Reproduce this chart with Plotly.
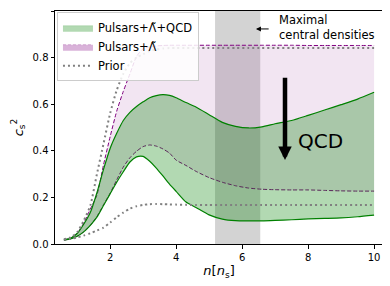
import plotly.graph_objects as go

# ---------------- data ----------------
n_grid = [0.6, 0.8, 1.0, 1.2, 1.4, 1.6, 1.8, 2.0, 2.2, 2.4, 2.6, 2.8, 3.0, 3.2, 3.4, 3.6,
          3.8, 4.0, 4.3, 4.6, 5.0, 5.4, 5.8, 6.2, 6.6, 7.0, 7.5, 8.0, 8.5, 9.0, 9.5, 10.0]

qcd_upper = [0.018, 0.025, 0.045, 0.085, 0.135, 0.22, 0.32, 0.41, 0.475, 0.53, 0.565, 0.59,
             0.61, 0.628, 0.637, 0.641, 0.638, 0.628, 0.607, 0.588, 0.555, 0.522, 0.505,
             0.498, 0.503, 0.516, 0.53, 0.552, 0.575, 0.598, 0.622, 0.651]
qcd_lower = [0.017, 0.022, 0.033, 0.052, 0.08, 0.115, 0.165, 0.215, 0.265, 0.31, 0.352,
             0.374, 0.376, 0.355, 0.326, 0.292, 0.257, 0.226, 0.18, 0.157, 0.125, 0.107,
             0.1, 0.099, 0.099, 0.101, 0.104, 0.108, 0.11, 0.112, 0.117, 0.124]

lam_upper = [0.018, 0.025, 0.045, 0.09, 0.15, 0.21, 0.34, 0.46, 0.57, 0.655, 0.73, 0.805,
             0.838, 0.846, 0.85, 0.852, 0.853, 0.853, 0.853, 0.853, 0.853, 0.853, 0.853,
             0.853, 0.853, 0.853, 0.853, 0.852, 0.852, 0.852, 0.852, 0.852]
lam_lower = [0.017, 0.022, 0.033, 0.052, 0.08, 0.118, 0.168, 0.218, 0.275, 0.33, 0.37,
             0.398, 0.418, 0.425, 0.42, 0.408, 0.39, 0.36, 0.337, 0.312, 0.285, 0.265,
             0.25, 0.24, 0.235, 0.233, 0.232, 0.232, 0.23, 0.228, 0.227, 0.227]

prior_upper = [0.02, 0.028, 0.05, 0.1, 0.165, 0.3, 0.43, 0.56, 0.66, 0.73, 0.776, 0.8,
               0.815, 0.828, 0.835, 0.839, 0.841, 0.841, 0.841, 0.841, 0.841, 0.841, 0.841,
               0.841, 0.841, 0.841, 0.841, 0.841, 0.841, 0.841, 0.841, 0.841]
prior_lower = [0.018, 0.022, 0.028, 0.036, 0.046, 0.058, 0.07, 0.092, 0.115, 0.135, 0.152,
               0.162, 0.168, 0.171, 0.172, 0.171, 0.17, 0.169, 0.168, 0.167, 0.167, 0.167,
               0.167, 0.167, 0.167, 0.167, 0.167, 0.167, 0.167, 0.167, 0.167, 0.167]

central_density_band = [5.18, 6.55]
x_ticks = [2, 4, 6, 8, 10]
y_ticks = [0.0, 0.2, 0.4, 0.6, 0.8, 1.0]
legend_labels = ["Pulsars+Λ̃+QCD", "Pulsars+Λ̃", "Prior"]
band_label = "Maximal<br>central densities"

# ---------------- styles ----------------
GREEN = "rgb(0,128,0)"
PURPLE = "rgb(128,0,128)"
GRAY = "rgb(128,128,128)"
FONT = "DejaVu Sans"
SPL = dict(shape="spline", smoothing=0.6)

fig = go.Figure()

# Pulsars + Lambda band (pink)
fig.add_trace(go.Scatter(x=n_grid, y=lam_lower, mode="lines",
                         line=dict(color=PURPLE, width=1, dash="4px,2px", **SPL),
                         showlegend=False, hoverinfo="skip"))
fig.add_trace(go.Scatter(x=n_grid, y=lam_upper, mode="lines",
                         line=dict(color=PURPLE, width=1, dash="4px,2px", **SPL),
                         fill="tonexty", fillcolor="rgba(128,0,128,0.1)", showlegend=False, hoverinfo="skip"))

# Pulsars + Lambda + QCD band (green)
fig.add_trace(go.Scatter(x=n_grid, y=qcd_lower, mode="lines", line=dict(color=GREEN, width=1.2, **SPL),
                         showlegend=False, hoverinfo="skip"))
fig.add_trace(go.Scatter(x=n_grid, y=qcd_upper, mode="lines", line=dict(color=GREEN, width=1.2, **SPL),
                         fill="tonexty", fillcolor="rgba(0,128,0,0.3)", showlegend=False, hoverinfo="skip"))

# Prior
for arr in (prior_upper, prior_lower):
    fig.add_trace(go.Scatter(x=n_grid, y=arr, mode="lines",
                             line=dict(color=GRAY, width=2, dash="2px,3px", **SPL),
                             showlegend=False, hoverinfo="skip"))

# legend proxies
fig.add_trace(go.Scatter(x=[None], y=[None], mode="lines", name=legend_labels[0], fill="toself",
                         fillcolor="rgba(0,128,0,0.3)", line=dict(color="rgba(0,128,0,0.15)", width=1)))
fig.add_trace(go.Scatter(x=[None], y=[None], mode="lines", name=legend_labels[1], fill="toself",
                         fillcolor="rgba(128,0,128,0.3)",
                         line=dict(color="rgba(128,0,128,0.25)", width=1, dash="3px,2px")))
fig.add_trace(go.Scatter(x=[None], y=[None], mode="lines", name=legend_labels[2],
                         line=dict(color=GRAY, width=2, dash="2px,3px")))

# Maximal central densities band
fig.add_vrect(x0=central_density_band[0], x1=central_density_band[1], y0=0, y1=1,
              fillcolor="rgba(128,128,128,0.35)", line_width=0, layer="below")

# annotations
fig.add_annotation(x=7.1, y=0.928, xref="x", yref="y", text=band_label,
                   showarrow=False, xanchor="left", yanchor="middle", align="left",
                   borderpad=0, font=dict(family=FONT, size=11.5, color="black"))
fig.add_annotation(x=6.42, y=0.923, ax=6.85, ay=0.923, xref="x", yref="y", axref="x", ayref="y",
                   text="", showarrow=True, arrowhead=2, arrowsize=1, arrowwidth=1, arrowcolor="black")
fig.add_annotation(x=7.3, y=0.36, ax=7.3, ay=0.72, xref="x", yref="y", axref="x", ayref="y",
                   text="", showarrow=True, arrowhead=2, arrowsize=0.6, arrowwidth=4.5, arrowcolor="black")
fig.add_annotation(x=8.39, y=0.442, xref="x", yref="y", text="QCD", showarrow=False,
                   font=dict(family=FONT, size=20, color="black"))

axis_common = dict(showgrid=False, zeroline=False, showline=True, mirror=True, linecolor="black",
                   linewidth=1, ticks="outside", ticklen=3.5, tickwidth=1, tickcolor="black",
                   tickfont=dict(family=FONT, size=10, color="black"))

# the page body adds an 8px margin, so the figure is 8px smaller than the window
fig.update_layout(
    width=382, height=278,
    margin=dict(l=47, r=7, t=3, b=42),
    paper_bgcolor="white", plot_bgcolor="white",
    font=dict(family=FONT, size=10, color="black"),
    xaxis=dict(range=[0.33, 10.27], tickvals=x_ticks, ticktext=[str(v) for v in x_ticks],
               title=dict(text="<i>n</i>[<i>n</i><sub>s</sub>]", font=dict(family=FONT, size=13), standoff=4),
               **axis_common),
    yaxis=dict(range=[0, 1], tickvals=y_ticks, ticktext=[f"{v:.1f}" for v in y_ticks],
               title=dict(text="<i>c</i><sub>s</sub><sup>2</sup>", font=dict(family=FONT, size=13), standoff=6),
               **axis_common),
    legend=dict(x=0.006, y=0.995, xanchor="left", yanchor="top", bgcolor="rgba(255,255,255,0.85)",
                bordercolor="rgb(204,204,204)", borderwidth=1, font=dict(family=FONT, size=11.5),
                tracegroupgap=0, itemwidth=30, traceorder="normal"),
    showlegend=True,
)

fig.write_html("out.html")
